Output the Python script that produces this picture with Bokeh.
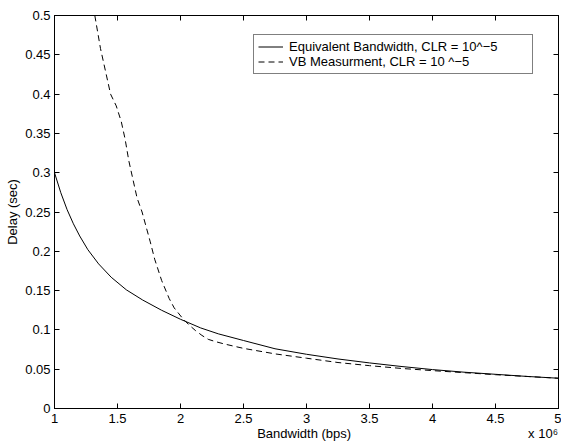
from bokeh.plotting import figure
from bokeh.models import (FixedTicker, LinearAxis, Legend, LegendItem, Range1d)
from bokeh.embed import file_html
from bokeh.resources import INLINE

# Bandwidth in units of 10^6 bps
eq_bw = [1.00, 1.05, 1.10, 1.15, 1.20, 1.265, 1.35, 1.45, 1.57, 1.70, 1.85, 2.00, 2.16,
         2.30, 2.50, 2.75, 3.00, 3.25, 3.50, 3.75, 4.00, 4.25, 4.50, 4.75, 5.00]
eq_delay = [0.300, 0.2745, 0.253, 0.235, 0.2195, 0.202, 0.184, 0.167, 0.151, 0.138, 0.125, 0.1135, 0.1025,
            0.095, 0.0865, 0.0760, 0.0690, 0.0630, 0.0580, 0.0535, 0.0495, 0.0462, 0.0435, 0.0408, 0.0385]

vb_bw = [1.32, 1.365, 1.445, 1.49, 1.53, 1.56, 1.59, 1.655, 1.695, 1.76, 1.795, 1.85, 1.91, 1.95,
         2.02, 2.07, 2.12, 2.17, 2.22, 2.28, 2.35, 2.5, 2.75, 3.0, 3.25, 3.5, 3.75, 4.0, 4.5, 5.0]
vb_delay = [0.500, 0.458, 0.400, 0.385, 0.365, 0.343, 0.315, 0.268, 0.250, 0.212, 0.190, 0.163, 0.140, 0.128,
            0.114, 0.106, 0.099, 0.093, 0.088, 0.085, 0.082, 0.0765, 0.0695, 0.0640, 0.0585, 0.0545, 0.0510, 0.0482, 0.0430, 0.0385]

x_ticks = [1, 1.5, 2, 2.5, 3, 3.5, 4, 4.5, 5]
x_tick_labels = ["1", "1.5", "2", "2.5", "3", "3.5", "4", "4.5", "5"]
y_ticks = [0, 0.05, 0.1, 0.15, 0.2, 0.25, 0.3, 0.35, 0.4, 0.45, 0.5]
y_tick_labels = ["0", "0.05", "0.1", "0.15", "0.2", "0.25", "0.3", "0.35", "0.4", "0.45", "0.5"]

label_eq = "Equivalent Bandwidth, CLR = 10^\u22125"
label_vb = "VB Measurment, CLR = 10 ^\u22125"
x_label = "Bandwidth (bps)"
x_mult = "x 10\u2076"
y_label = "Delay (sec)"

FONT = "Liberation Sans"
FS = "13px"

p = figure(width=561, height=448, output_backend="svg", toolbar_location=None,
           x_range=Range1d(1, 5), y_range=Range1d(0, 0.5),
           min_border_left=54, min_border_right=3, min_border_top=15, min_border_bottom=40,
           background_fill_color="white", border_fill_color="white")
p.xgrid.visible = False
p.ygrid.visible = False
p.outline_line_color = "black"
p.outline_line_width = 1

def style_axis(ax, ticks, labels, show_labels=True):
    ax.ticker = FixedTicker(ticks=ticks)
    ax.major_label_overrides = {t: l for t, l in zip(ticks, labels)}
    ax.major_tick_in = 5
    ax.major_tick_out = 0
    ax.minor_tick_in = 0
    ax.minor_tick_out = 0
    ax.axis_line_color = "black"
    ax.major_tick_line_color = "black"
    ax.major_label_text_font = FONT
    ax.major_label_text_color = "black"
    if show_labels:
        ax.major_label_text_font_size = FS
        ax.major_label_standoff = 4
    else:
        ax.major_label_text_font_size = "0px"
        ax.major_label_text_alpha = 0
        ax.major_label_standoff = 0

xa = p.xaxis[0]
ya = p.yaxis[0]
style_axis(xa, x_ticks, x_tick_labels)
style_axis(ya, y_ticks, y_tick_labels)
xa.major_label_standoff = 5
# x label and the "x 10^6" multiplier share the band below the axis
nb = "\u00a0"
xa.axis_label = nb * 56 + x_label + nb * 49 + x_mult
ya.axis_label = y_label
for ax in (xa, ya):
    ax.axis_label_text_font = FONT
    ax.axis_label_text_font_size = FS
    ax.axis_label_text_font_style = "normal"
    ax.axis_label_text_color = "black"
xa.axis_label_standoff = 0
ya.axis_label_standoff = 2

top_ax = LinearAxis()
style_axis(top_ax, x_ticks, x_tick_labels, show_labels=False)
p.add_layout(top_ax, "above")
right_ax = LinearAxis()
style_axis(right_ax, y_ticks, y_tick_labels, show_labels=False)
p.add_layout(right_ax, "right")

r_eq = p.line(eq_bw, eq_delay, line_color="black", line_width=1)
r_vb = p.line(vb_bw, vb_delay, line_color="black", line_width=1, line_dash="6 4")

legend = Legend(items=[LegendItem(label=label_eq, renderers=[r_eq]),
                       LegendItem(label=label_vb, renderers=[r_vb])],
                location=(199, 334))
legend.label_text_font = FONT
legend.label_text_font_size = FS
legend.label_text_color = "black"
legend.border_line_color = "black"
legend.border_line_width = 1
legend.background_fill_color = "white"
legend.background_fill_alpha = 1
legend.padding = 4
legend.spacing = 0
legend.margin = 0
legend.glyph_width = 25
legend.glyph_height = 15
legend.label_height = 15
legend.label_standoff = 6
legend.label_width = 239
p.add_layout(legend, "center")

open("out.html", "w").write(file_html(p, INLINE))
